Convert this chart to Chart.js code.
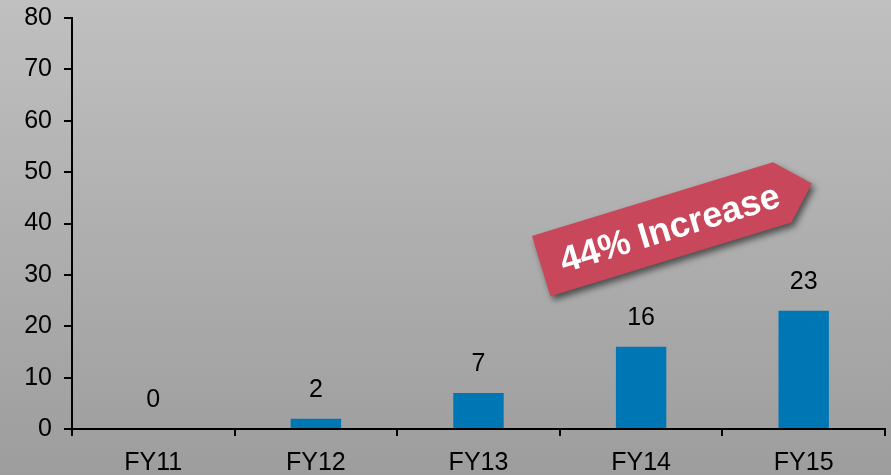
<!DOCTYPE html>
<html>
<head>
<meta charset="utf-8">
<script src="https://cdn.jsdelivr.net/npm/chart.js@4"></script>
<style>
  html, body { margin: 0; padding: 0; background: #b0b0b0; }
  #wrap { width: 891px; height: 475px; position: relative; }
</style>
</head>
<body>
<div id="wrap"><canvas id="c" width="891" height="475"></canvas></div>
<script>
const categories = ['FY11', 'FY12', 'FY13', 'FY14', 'FY15'];
const values = [0, 2, 7, 16, 23];
const yTicks = [0, 10, 20, 30, 40, 50, 60, 70, 80];
const bannerText = '44% Increase';

const FONT = '"Liberation Sans", Arial, sans-serif';

// Grey gradient backdrop behind the whole canvas
const backdrop = {
  id: 'backdrop',
  beforeDraw(chart) {
    const { ctx, width, height } = chart;
    const g = ctx.createLinearGradient(0, 0, 0, height);
    g.addColorStop(0, '#c0c0c0');
    g.addColorStop(1, '#9d9d9d');
    ctx.save();
    ctx.fillStyle = g;
    ctx.fillRect(0, 0, width, height);
    ctx.restore();
  }
};

// Value labels above each bar
const valueLabels = {
  id: 'valueLabels',
  afterDatasetsDraw(chart) {
    const { ctx } = chart;
    const meta = chart.getDatasetMeta(0);
    ctx.save();
    ctx.fillStyle = '#000';
    ctx.font = '25px ' + FONT;
    ctx.textAlign = 'center';
    ctx.textBaseline = 'middle';
    meta.data.forEach((bar, i) => {
      ctx.fillText(String(values[i]), bar.x, bar.y - 29);
    });
    ctx.restore();
  }
};

// Tilted arrow banner
const banner = {
  id: 'banner',
  afterDraw(chart) {
    const { ctx, chartArea } = chart;
    const ox = chartArea.left + 460;
    const oy = chartArea.top + 218;
    const ang = -17 * Math.PI / 180;
    const L = 252, H = 63, tip = 31;
    ctx.save();
    ctx.translate(ox, oy);
    ctx.rotate(ang);
    ctx.beginPath();
    ctx.moveTo(0, 0);
    ctx.lineTo(L, 0);
    ctx.lineTo(L + tip, H / 2);
    ctx.lineTo(L, H);
    ctx.lineTo(0, H);
    ctx.closePath();
    ctx.shadowColor = 'rgba(0,0,0,0.55)';
    ctx.shadowBlur = 6;
    ctx.shadowOffsetX = 3;
    ctx.shadowOffsetY = 4;
    ctx.fillStyle = '#c8475b';
    ctx.fill();
    ctx.shadowColor = 'transparent';
    ctx.fillStyle = '#ffffff';
    ctx.font = 'bold 36px ' + FONT;
    ctx.textAlign = 'center';
    ctx.textBaseline = 'middle';
    ctx.fillText(bannerText, L / 2 + 8, H / 2 + 3);
    ctx.restore();
  }
};

new Chart(document.getElementById('c'), {
  type: 'bar',
  data: {
    labels: categories,
    datasets: [{
      data: values,
      backgroundColor: '#0077b5',
      barPercentage: 0.62,
      categoryPercentage: 0.5
    }]
  },
  options: {
    responsive: false,
    animation: false,
    devicePixelRatio: 1,
    layout: { padding: { top: 18, right: 6, left: 0, bottom: 0 } },
    plugins: { legend: { display: false }, tooltip: { enabled: false } },
    scales: {
      x: {
        grid: {
          display: true,
          offset: true,
          drawOnChartArea: false,
          drawTicks: true,
          tickLength: 7,
          color: '#000',
          lineWidth: 2
        },
        border: { display: true, color: '#000', width: 2 },
        ticks: {
          color: '#000',
          font: { family: FONT, size: 25 },
          padding: 12,
          maxRotation: 0
        },
        afterFit(scale) {
          scale.height = 46;
          scale.paddingLeft = 0;
          scale.paddingRight = 0;
        }
      },
      y: {
        min: 0,
        max: 80,
        afterBuildTicks(scale) { scale.ticks = yTicks.map(v => ({ value: v })); },
        grid: {
          display: true,
          drawOnChartArea: false,
          drawTicks: true,
          tickLength: 8,
          color: '#000',
          lineWidth: 2
        },
        border: { display: true, color: '#000', width: 2 },
        ticks: {
          color: '#000',
          font: { family: FONT, size: 25 },
          padding: 12
        },
        afterFit(scale) {
          scale.width = 72;
          scale.paddingTop = 0;
          scale.paddingBottom = 0;
        }
      }
    }
  },
  plugins: [backdrop, valueLabels, banner]
});
</script>
</body>
</html>
